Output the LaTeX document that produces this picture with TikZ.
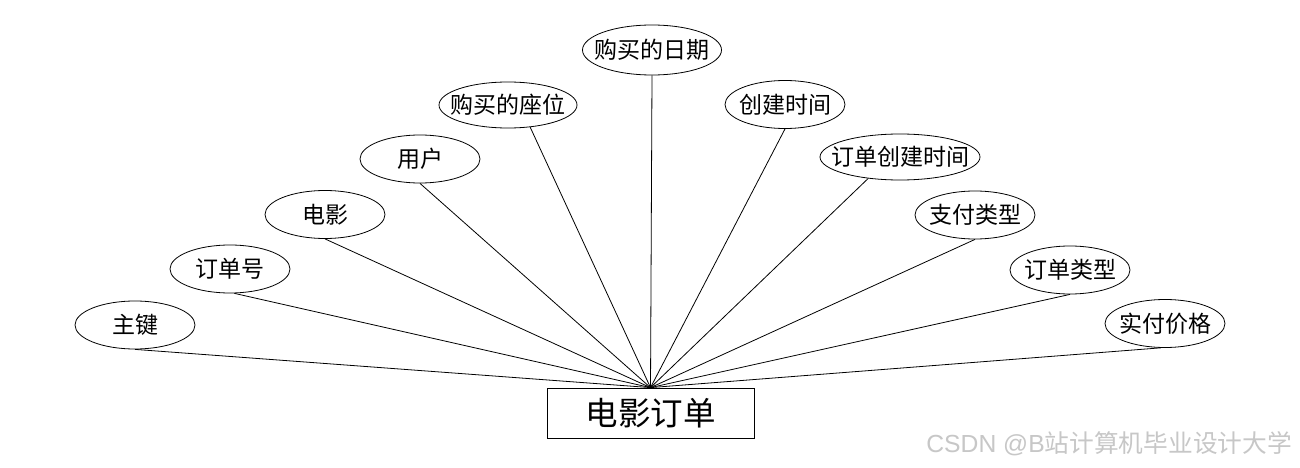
\documentclass[tikz,border=0pt]{standalone}
\usepackage{fontspec}
\usetikzlibrary{shapes.geometric}
\newfontfamily\cjk{Noto Sans CJK SC}
\newfontfamily\wmlatin{Liberation Sans}
\begin{document}
\begin{tikzpicture}[x=1pt,y=-1pt,
  attr/.style={draw, ellipse, line width=0.8pt, inner sep=0pt, minimum width=120pt, minimum height=48pt},
  lbl/.style={inner sep=0pt, font=\cjk\fontsize{23}{26}\selectfont},
  entity/.style={draw, rectangle, line width=0.8pt, inner sep=0pt, minimum width=207pt, minimum height=50pt, font=\cjk\fontsize{32.5}{36}\selectfont},
  link/.style={line width=0.8pt},
  wmark/.style={text=black!22, font=\fontsize{24.7}{27}\selectfont, inner sep=0pt, anchor=east}]
\useasboundingbox[fill=white] (0,0) rectangle (1300,468);
\node[attr] (a1) at (135,325) {};
\node[attr] (a2) at (230,269) {};
\node[attr] (a3) at (325,214.5) {};
\node[attr] (a4) at (420,159) {};
\node[attr, minimum width=138pt, minimum height=46pt] (a5) at (508,105) {};
\node[attr, minimum width=139pt, minimum height=50pt] (a6) at (652,50) {};
\node[attr] (a7) at (785,104.5) {};
\node[attr, minimum width=160pt, minimum height=46pt] (a8) at (900,157) {};
\node[attr] (a9) at (975,215) {};
\node[attr] (a10) at (1070,270) {};
\node[attr] (a11) at (1165,323.5) {};
\node[lbl] (t1) at (a1) {主键};
\node[lbl] (t2) at (a2) {订单号};
\node[lbl] (t3) at (a3) {电影};
\node[lbl] (t4) at (a4) {用户};
\node[lbl] (t5) at (a5) {购买的座位};
\node[lbl] (t6) at (a6) {购买的日期};
\node[lbl] (t7) at (a7) {创建时间};
\node[lbl] (t8) at (a8) {订单创建时间};
\node[lbl] (t9) at (a9) {支付类型};
\node[lbl] (t10) at (a10) {订单类型};
\node[lbl] (t11) at (a11) {实付价格};
\node[entity] (ent) at (650.5,413) {电影订单};
\draw[link] (a1.south) -- (ent.north);
\draw[link] (a2.-80) -- (ent.north);
\draw[link] (a3.south) -- (ent.north);
\draw[link] (a4.south) -- (ent.north);
\draw[link] (a5.-45) -- (ent.north);
\draw[link] (a6.south) -- (ent.north);
\draw[link] (a7.south) -- (ent.north);
\draw[link] (a8.-146) -- (ent.north);
\draw[link] (a9.south) -- (ent.north);
\draw[link] (a10.south) -- (ent.north);
\draw[link] (a11.-100) -- (ent.north);
\node[wmark] (wm) at (1292,444) {\wmlatin CSDN @B\cjk 站计算机毕业设计大学};
\end{tikzpicture}
\end{document}
